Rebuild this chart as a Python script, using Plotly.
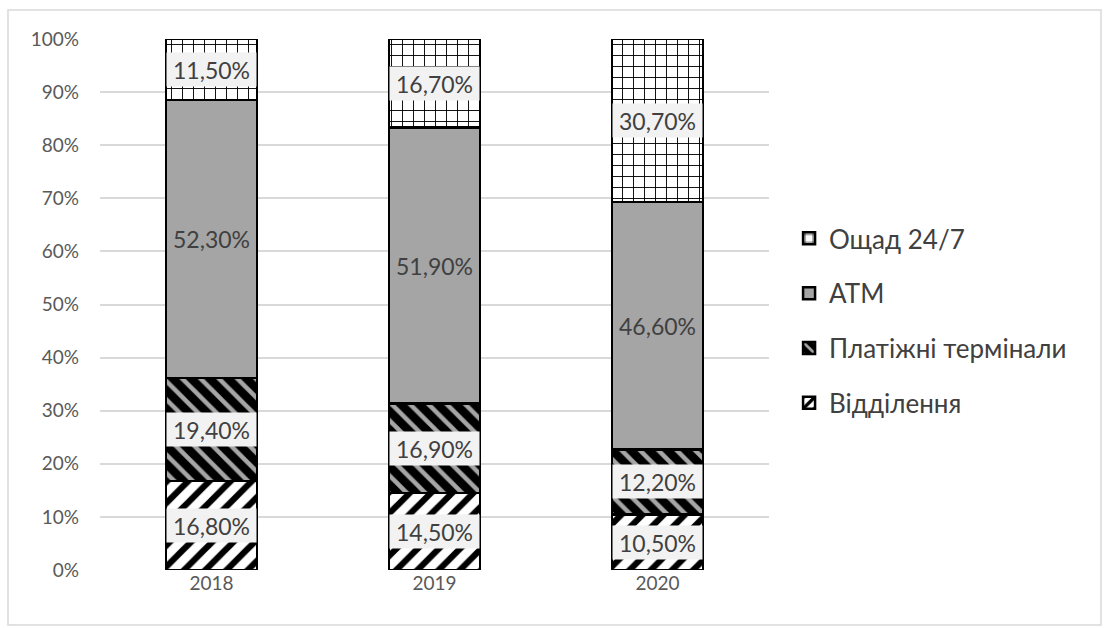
import plotly.graph_objects as go

years = ["2018", "2019", "2020"]
viddilennia = [16.8, 14.5, 10.5]
terminaly = [19.4, 16.9, 12.2]
atm = [52.3, 51.9, 46.6]
oshchad = [11.5, 16.7, 30.7]

series = [
    ("Відділення", viddilennia, dict(shape="/", bgcolor="white", fgcolor="black", size=15, solidity=0.42, fillmode="replace")),
    ("Платіжні термінали", terminaly, dict(shape="\\", bgcolor="black", fgcolor="#a6a6a6", size=13, solidity=0.35, fillmode="replace")),
    ("ATM", atm, None),
    ("Ощад 24/7", oshchad, dict(shape="+", bgcolor="white", fgcolor="black", size=11, solidity=0.16, fillmode="replace")),
]

FONT = "Lato, 'Open Sans', sans-serif"
fig = go.Figure()

for i, (name, vals, pat) in enumerate(series):
    marker = dict(line=dict(color="black", width=2.5))
    if pat is None:
        marker["color"] = "#a5a5a5"
    else:
        marker["color"] = "white"
        marker["pattern"] = pat
    fig.add_trace(go.Bar(
        x=years, y=vals, name=name, marker=marker,
        legendgroup=f"g{i}", legendrank=len(series) - i,
        hoverinfo="skip",
    ))

# value labels centred in each segment (x given as category index)
base = [0.0] * len(years)
for name, vals, pat in series:
    for j, v in enumerate(vals):
        fig.add_annotation(
            x=j, y=base[j] + v / 2,
            text=f"{v:.2f}%".replace(".", ","),
            showarrow=False,
            font=dict(family=FONT, size=23, color="#404040"),
            bgcolor="#f2f2f2" if name != "ATM" else "rgba(0,0,0,0)",
            width=87, height=31,
        )
        base[j] += v

# outer chart frame
fig.add_shape(
    type="rect", xref="paper", yref="paper",
    x0=(8 - 100) / 669, x1=(1101 - 100) / 669,
    y0=(570 - 625) / 531, y1=(570 - 10) / 531,
    line=dict(color="#d9d9d9", width=1.5), layer="below",
)

fig.update_layout(
    width=1107, height=628,
    margin=dict(l=100, r=338, t=39, b=58),
    barmode="stack", bargap=0.59,
    paper_bgcolor="white", plot_bgcolor="white",
    font=dict(family=FONT, color="#595959"),
    showlegend=True,
    legend=dict(
        x=1.03, y=0.469, xanchor="left", yanchor="middle",
        traceorder="grouped", tracegroupgap=18,
        font=dict(family=FONT, size=26, color="#404040"),
        itemwidth=30,
    ),
    xaxis=dict(
        type="category", range=[-0.5, 2.5],
        showgrid=False, showline=False, ticks="",
        tickfont=dict(family=FONT, size=19, color="#595959"),
    ),
    yaxis=dict(
        range=[0, 100], dtick=10, ticksuffix="%",
        showgrid=True, gridcolor="#d9d9d9", gridwidth=1.5,
        zeroline=False, showline=False,
        tickfont=dict(family=FONT, size=19, color="#595959"),
        ticklabelstandoff=20,
    ),
)

fig.write_html("out.html")
